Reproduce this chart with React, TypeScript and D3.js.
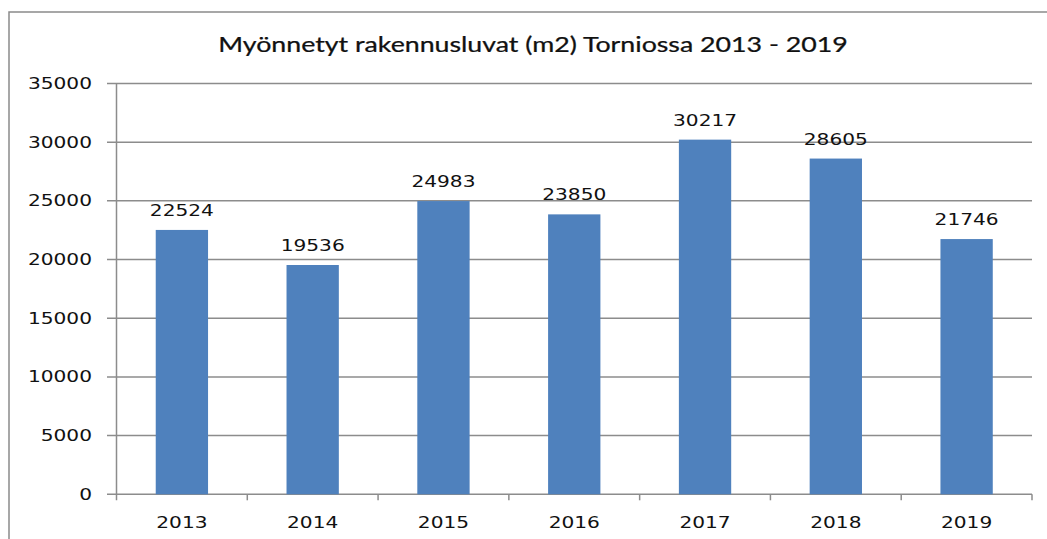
import React from "react";
import * as d3 from "d3";

const years = ["2013", "2014", "2015", "2016", "2017", "2018", "2019"];
const values = [22524, 19536, 24983, 23850, 30217, 28605, 21746];
const yTicks = [0, 5000, 10000, 15000, 20000, 25000, 30000, 35000];
const title = "Myönnetyt rakennusluvat (m2) Torniossa 2013 - 2019";

const W = 1047;
const H = 539;
const left = 116.5;
const right = 1032;
const top = 83.5;
const bottom = 494.3;
const numFont = "DejaVu Sans, Verdana, sans-serif";
const sx = 1.3;

export default function App() {
  const x = d3.scaleBand<string>().domain(years).range([left, right]).paddingInner(0.6).paddingOuter(0.3);
  const band = d3.scaleBand<string>().domain(years).range([left, right]);
  const y = d3.scaleLinear().domain([0, 35000]).range([bottom, top]);

  return (
    <svg width={W} height={H} style={{ position: "absolute", left: 0, top: 0, background: "#fff" }}>
      <rect x={9} y={12} width={W + 20} height={H + 20} fill="#fff" stroke="#8a8a8a" strokeWidth={1.5} />
      <g transform={`translate(533,52) scale(1.12,1)`}>
        <text
          textAnchor="middle"
          fontFamily="Lato, Open Sans, sans-serif"
          fontSize={20.5}
          fill="#111"
          stroke="#111"
          strokeWidth={0.25}
          textLength={562}
          lengthAdjust="spacingAndGlyphs"
        >
          {title}
        </text>
      </g>
      {yTicks.map((t) => (
        <g key={t}>
          <line x1={107} x2={right} y1={y(t)} y2={y(t)} stroke="#8c8c8c" strokeWidth={1.5} />
          <g transform={`translate(92,${y(t) + 5.5}) scale(${sx},1)`}>
            <text textAnchor="end" fontFamily={numFont} fontSize={15.5} fill="#111">
              {t}
            </text>
          </g>
        </g>
      ))}
      <line x1={left} x2={left} y1={top} y2={bottom + 6} stroke="#8c8c8c" strokeWidth={1.5} />
      {years.map((yr) => (
        <line
          key={"tk" + yr}
          x1={(band(yr) as number) + band.bandwidth()}
          x2={(band(yr) as number) + band.bandwidth()}
          y1={bottom}
          y2={bottom + 6}
          stroke="#8c8c8c"
          strokeWidth={1.5}
        />
      ))}
      {years.map((yr, i) => (
        <rect
          key={"b" + yr}
          x={x(yr)}
          y={y(values[i])}
          width={x.bandwidth()}
          height={bottom - y(values[i])}
          fill="#4F81BD"
        />
      ))}
      {years.map((yr, i) => {
        const cx = (band(yr) as number) + band.bandwidth() / 2;
        return (
          <g key={"l" + yr}>
            <g transform={`translate(${cx},${y(values[i]) - 14}) scale(${sx},1)`}>
              <text textAnchor="middle" fontFamily={numFont} fontSize={15.5} fill="#111">
                {values[i]}
              </text>
            </g>
            <g transform={`translate(${cx},${528}) scale(${sx},1)`}>
              <text textAnchor="middle" fontFamily={numFont} fontSize={15.5} fill="#111">
                {yr}
              </text>
            </g>
          </g>
        );
      })}
    </svg>
  );
}
